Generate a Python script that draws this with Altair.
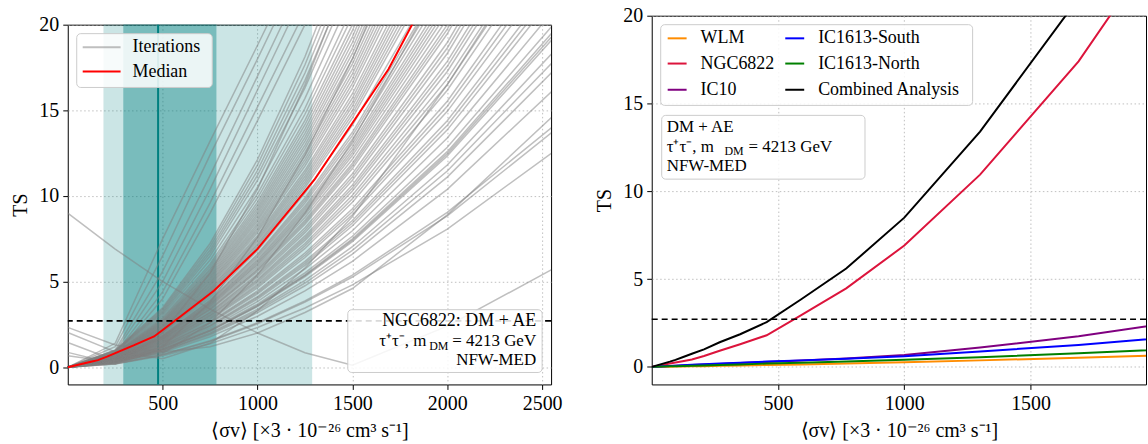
import altair as alt
import pandas as pd

FONT = "Liberation Serif"

# ---------------- data ----------------
# left panel: iterations sampled on this <sigma v> grid
X_IT = [0, 250, 500, 750, 1000, 1250, 1500, 2000, 2550]
ITERATIONS = [
    [0, 1.4, 7.5, 13.2, 18.8, 24.5],
    [0, 1.2, 6.5, 12.4, 18.0, 23.8],
    [0, 1.0, 5.6, 11.2, 17.0, 22.8],
    [0, 0.9, 5.0, 10.4, 16.2, 22.0],
    [0, 0.8, 4.4, 9.6, 15.2, 20.8],
    [0, 0.7, 4.0, 9.0, 14.4, 20.0, 26.0],
    [0, 1.00, 3.48, 7.23, 12.13, 18.13, 25.2],
    [0, 0.98, 3.39, 7.04, 11.82, 17.66, 24.5],
    [0, 0.95, 3.30, 6.85, 11.50, 17.18, 23.85],
    [0, 0.93, 3.22, 6.68, 11.21, 16.75, 23.25],
    [0, 0.90, 3.13, 6.50, 10.92, 16.31, 22.65],
    [0, 0.87, 3.02, 6.26, 10.51, 15.70, 21.79],
    [0, 0.83, 2.91, 6.03, 10.12, 15.12, 21.0],
    [0, 0.82, 2.84, 5.89, 9.88, 14.77, 20.5, 34.0],
    [0, 0.80, 2.77, 5.75, 9.64, 14.41, 20.0, 33.6],
    [0, 0.79, 2.72, 5.65, 9.47, 14.16, 19.65, 33.0],
    [0, 0.77, 2.67, 5.54, 9.30, 13.90, 19.29, 32.4],
    [0, 0.76, 2.63, 5.45, 9.14, 13.66, 18.96, 31.9],
    [0, 0.74, 2.58, 5.35, 8.98, 13.42, 18.63, 31.3],
    [0, 0.73, 2.54, 5.26, 8.83, 13.20, 18.32, 30.8],
    [0, 0.72, 2.49, 5.17, 8.68, 12.97, 18.01, 30.2],
    [0, 0.71, 2.45, 5.09, 8.54, 12.76, 17.71, 29.7],
    [0, 0.69, 2.41, 5.00, 8.39, 12.54, 17.41, 29.2],
    [0, 0.68, 2.37, 4.92, 8.26, 12.34, 17.13, 28.8],
    [0, 0.67, 2.33, 4.84, 8.12, 12.14, 16.85, 28.3],
    [0, 0.66, 2.30, 4.76, 7.99, 11.95, 16.58, 27.9],
    [0, 0.65, 2.26, 4.68, 7.86, 11.75, 16.31, 27.4],
    [0, 0.63, 2.21, 4.59, 7.70, 11.50, 15.97, 26.8],
    [0, 0.62, 2.18, 4.52, 7.58, 11.33, 15.72, 26.4],
    [0, 0.61, 2.14, 4.44, 7.46, 11.15, 15.47, 26.0],
    [0, 0.61, 2.11, 4.38, 7.35, 10.98, 15.24, 25.6],
    [0, 0.60, 2.08, 4.31, 7.23, 10.81, 15.00, 25.2],
    [0, 0.59, 2.05, 4.25, 7.13, 10.65, 14.78, 24.8],
    [0, 0.58, 2.01, 4.18, 7.02, 10.49, 14.56, 24.4],
    [0, 0.57, 1.96, 4.06, 6.82, 10.19, 14.14, 23.7],
    [0, 0.55, 1.90, 3.94, 6.61, 9.88, 13.72, 23.0],
    [0, 0.54, 1.87, 3.88, 6.52, 9.74, 13.52, 22.65],
    [0, 0.53, 1.84, 3.82, 6.42, 9.59, 13.31, 22.3],
    [0, 0.52, 1.81, 3.75, 6.30, 9.41, 13.06, 21.9],
    [0, 0.51, 1.79, 3.70, 6.21, 9.28, 12.88, 21.6],
    [0, 0.50, 1.76, 3.65, 6.12, 9.15, 12.70, 21.3],
    [0, 0.50, 1.74, 3.60, 6.04, 9.03, 12.53, 21.0],
    [0, 0.49, 1.71, 3.55, 5.96, 8.90, 12.36, 20.7],
    [0, 0.48, 1.68, 3.49, 5.85, 8.74, 12.14, 20.35, 31.5],
    [0, 0.47, 1.65, 3.42, 5.74, 8.58, 11.91, 20.0, 31.0],
    [0, 0.47, 1.63, 3.38, 5.67, 8.47, 11.76, 19.74, 30.6],
    [0, 0.46, 1.61, 3.33, 5.59, 8.35, 11.60, 19.47, 30.2],
    [0, 0.45, 1.56, 3.24, 5.45, 8.14, 11.30, 18.96, 29.4],
    [0, 0.44, 1.54, 3.19, 5.36, 8.00, 11.11, 18.64, 28.9],
    [0, 0.43, 1.51, 3.14, 5.26, 7.86, 10.92, 18.32, 28.4],
    [0, 0.42, 1.47, 3.06, 5.13, 7.67, 10.64, 17.86, 27.7],
    [0, 0.42, 1.45, 3.01, 5.05, 7.54, 10.47, 17.57, 27.25],
    [0, 0.41, 1.42, 2.96, 4.96, 7.41, 10.29, 17.27, 26.8],
    [0, 0.40, 1.39, 2.88, 4.84, 7.23, 10.04, 16.85, 26.1],
    [0, 0.39, 1.36, 2.83, 4.74, 7.09, 9.84, 16.51, 25.6],
    [0, 0.38, 1.33, 2.77, 4.64, 6.94, 9.63, 16.17, 25.1],
    [0, 0.37, 1.28, 2.66, 4.46, 6.67, 9.25, 15.53, 24.1],
    [0, 0.36, 1.26, 2.61, 4.38, 6.54, 9.08, 15.24, 23.6],
    [0, 0.35, 1.23, 2.56, 4.29, 6.41, 8.90, 14.94, 23.1],
    [0, 0.34, 1.19, 2.46, 4.13, 6.18, 8.57, 14.39, 22.3],
    [0, 0.34, 1.17, 2.42, 4.06, 6.07, 8.42, 14.13, 21.9],
    [0, 0.33, 1.14, 2.37, 3.98, 5.95, 8.26, 13.86, 21.5],
    [0, 0.32, 1.10, 2.29, 3.84, 5.74, 7.97, 13.38, 20.7],
    [0, 0.30, 1.06, 2.20, 3.69, 5.51, 7.65, 12.84, 19.9],
    [0, 0.30, 1.04, 2.15, 3.62, 5.40, 7.50, 12.59, 19.5],
    [0, 0.30, 1.03, 2.13, 3.58, 5.35, 7.42, 12.46, 19.3],
    [0, 0.29, 1.02, 2.11, 3.54, 5.29, 7.34, 12.33, 19.1],
    [0, 0.28, 0.97, 2.02, 3.39, 5.07, 7.04, 11.81, 18.3],
    [0, 0.27, 0.95, 1.96, 3.29, 4.92, 6.83, 11.46, 17.75],
    [0, 0.26, 0.92, 1.90, 3.19, 4.76, 6.61, 11.10, 17.2],
    [0, 0.25, 0.86, 1.78, 2.98, 4.46, 6.19, 10.39, 16.1],
    [0, 0.21, 0.75, 1.55, 2.60, 3.88, 5.38, 9.04, 14.0],
    [0, 0.21, 0.73, 1.51, 2.54, 3.80, 5.27, 8.84, 13.7],
    [0, 0.19, 0.67, 1.38, 2.32, 3.46, 4.81, 8.07, 12.5],
    [2.33, 1.3, 0.9, 1.2, 2.0, 3.2, 4.6, 8.9, 14.6],
    [2.03, 0.9, 0.5, 1.4, 3.3, 5.8, 8.8, 16.5, 26.0],
    [1.45, 0.4, 0.8, 2.6, 5.4, 9.0, 13.2, 23.0],
    [0.87, 0.2, 1.2, 3.8, 7.6, 12.4, 18.0, 31.0],
    [0.68, 0.3, 2.0, 5.5, 10.4, 16.5, 23.5],
    [9.0, 6.9, 5.0, 3.4, 2.0, 0.85, 0.12, 2.4, 5.7],
]

# right panel (and left median): <sigma v> grid
X_R = [0, 72, 94, 122, 159, 207, 269, 350, 455, 592, 770, 1000, 1300, 1690, 2197]
WLM = [0, 0.01, 0.02, 0.02, 0.03, 0.04, 0.06, 0.08, 0.11, 0.14, 0.19, 0.26, 0.37, 0.52, 0.72]
NGC6822 = [0, 0.19, 0.25, 0.32, 0.42, 0.62, 0.92, 1.29, 1.80, 2.95, 4.47, 6.91, 10.95, 17.4, 28.0]
IC10 = [0, 0.05, 0.06, 0.08, 0.10, 0.13, 0.17, 0.22, 0.28, 0.36, 0.48, 0.68, 1.10, 1.75, 2.8]
IC1613_SOUTH = [0, 0.05, 0.07, 0.09, 0.12, 0.15, 0.19, 0.24, 0.30, 0.37, 0.46, 0.60, 0.88, 1.25, 1.85]
IC1613_NORTH = [0, 0.03, 0.04, 0.05, 0.06, 0.08, 0.11, 0.14, 0.19, 0.24, 0.30, 0.40, 0.55, 0.78, 1.10]
COMBINED = [0, 0.30, 0.40, 0.55, 0.75, 1.00, 1.40, 1.86, 2.55, 3.85, 5.60, 8.50, 13.40, 21.0, 33.0]

SERIES_NAMES = ["WLM", "NGC6822", "IC10", "IC1613-South", "IC1613-North", "Combined Analysis"]
SERIES_VALUES = [WLM, NGC6822, IC10, IC1613_SOUTH, IC1613_NORTH, COMBINED]
SERIES_COLORS = ["#ff8c00", "#dc143c", "#800080", "#0000ff", "#008000", "#000000"]

BAND_1SIG = [294, 782]
BAND_2SIG = [189, 1287]
BEST_FIT = [476]
TS_THRESHOLD = [2.71]

X_TICKS_L = [500, 1000, 1500, 2000, 2500]
X_TICKS_R = [500, 1000, 1500]
Y_TICKS = [0, 5, 10, 15, 20]
XTITLE = "⟨σv⟩ [×3 · 10⁻²⁶ cm³ s⁻¹]"

# ---------------- frames ----------------
it_rows = []
for i, vals in enumerate(ITERATIONS):
    for x, v in zip(X_IT, vals):
        it_rows.append({"id": i, "x": x, "ts": v})
df_it = pd.DataFrame(it_rows)

df_med = pd.DataFrame({"x": X_R, "ts": NGC6822})

r_rows = []
for k, (name, vals) in enumerate(zip(SERIES_NAMES, SERIES_VALUES)):
    for x, v in zip(X_R, vals):
        r_rows.append({"name": name, "order": k, "x": x, "ts": v})
df_r = pd.DataFrame(r_rows)

df_b2 = pd.DataFrame({"x": [BAND_2SIG[0]], "hi": [BAND_2SIG[1]]})
df_b1 = pd.DataFrame({"x": [BAND_1SIG[0]], "hi": [BAND_1SIG[1]]})
df_bf = pd.DataFrame({"x": BEST_FIT})
df_th = pd.DataFrame({"ts": TS_THRESHOLD})
one = pd.DataFrame({"a": [0]})

W1, H1 = 485, 361
W2, H2 = 496, 370

ys = alt.Scale(domain=[-1, 20], nice=False, zero=False)
xs1 = alt.Scale(domain=[0, 2547], nice=False, zero=False)
xs2 = alt.Scale(domain=[0, 1957], nice=False, zero=False)

yaxis = alt.Axis(values=Y_TICKS, title="TS", grid=True, format="d")
xaxis1 = alt.Axis(values=X_TICKS_L, title=XTITLE, grid=True, format="d")
xaxis2 = alt.Axis(values=X_TICKS_R, title=XTITLE, grid=True, format="d")

X1 = alt.X("x:Q", scale=xs1, axis=xaxis1, title=XTITLE)
X2 = alt.X("x:Q", scale=xs2, axis=xaxis2, title=XTITLE)
Y = alt.Y("ts:Q", scale=ys, axis=yaxis, title="TS")


def txt(s, x, y, align="left", size=17):
    return alt.Chart(one).mark_text(
        align=align, baseline="middle", font=FONT, fontSize=size, color="black"
    ).encode(x=alt.value(x), y=alt.value(y), text=alt.value(s))


def box(x0, x1, y0, y1):
    return alt.Chart(one).mark_rect(
        fill="white", fillOpacity=0.85, stroke="#cccccc", strokeWidth=1, cornerRadius=4
    ).encode(x=alt.value(x0), x2=alt.value(x1), y=alt.value(y0), y2=alt.value(y1))


def seg(x0, x1, y, color, opacity=1.0, width=2):
    return alt.Chart(one).mark_rule(color=color, opacity=opacity, strokeWidth=width).encode(
        x=alt.value(x0), x2=alt.value(x1), y=alt.value(y))


# ---------------- left panel ----------------
band2 = alt.Chart(df_b2).mark_rect(color="teal", opacity=0.2, stroke="teal", strokeOpacity=0.3).encode(
    x=X1, x2="hi:Q")
band1 = alt.Chart(df_b1).mark_rect(color="teal", opacity=0.4, stroke="teal", strokeOpacity=0.5).encode(
    x=X1, x2="hi:Q")
bfline = alt.Chart(df_bf).mark_rule(color="teal", strokeWidth=2).encode(x=X1)
iters = alt.Chart(df_it).mark_line(color="gray", opacity=0.5, strokeWidth=1.5, clip=True).encode(
    x=X1, y=Y, detail="id:N", order="x:Q")
median = alt.Chart(df_med).mark_line(color="red", strokeWidth=2, clip=True).encode(
    x=X1, y=Y, order="x:Q")
thr1 = alt.Chart(df_th).mark_rule(color="black", strokeWidth=1.6, strokeDash=[6, 4]).encode(y=Y)

left = alt.layer(
    band2, band1, bfline, iters, median, thr1,
    box(281, 476, 286, 349),
    txt("NGC6822: DM + AE", 470, 297, align="right", size=18),
    txt("= 4213 GeV", 470, 317.5, align="right"),
    txt("DM", 382, 322, align="right", size=12),
    txt("τ⁺τ⁻, m", 360, 317.5, align="right"),
    txt("NFW-MED", 470, 336, align="right"),
    box(9, 145, 9, 63),
    seg(15, 53, 22.7, "gray", 0.5, 2),
    seg(15, 53, 47, "red", 1.0, 2),
    txt("Iterations", 65, 22.7, size=18),
    txt("Median", 65, 47, size=18),
).properties(width=W1, height=H1)

# invisible spacer that pushes the left panel a little lower than the right one
spacer = alt.Chart(one).mark_rule(opacity=0).encode(
    x=alt.value(0), x2=alt.value(1), y=alt.value(0)
).properties(width=W1, height=1, view=alt.ViewBackground(stroke="transparent"))

left_col = alt.vconcat(spacer, left, spacing=-4)

# ---------------- right panel ----------------
lines_r = alt.Chart(df_r).mark_line(strokeWidth=2, clip=True).encode(
    x=X2, y=Y,
    color=alt.Color("name:N", scale=alt.Scale(domain=SERIES_NAMES, range=SERIES_COLORS), legend=None),
    detail="name:N", order="x:Q")
thr2 = alt.Chart(df_th).mark_rule(color="black", strokeWidth=1.6, strokeDash=[6, 4]).encode(y=Y)

leg_rows = [22.7, 48.0, 74.3]
leg_layers = [box(9, 322, 9, 90)]
for k, name in enumerate(SERIES_NAMES):
    col = k // 3
    row = k % 3
    sx = 16 if col == 0 else 134
    tx = 49 if col == 0 else 167
    leg_layers.append(seg(sx, sx + 19, leg_rows[row], SERIES_COLORS[k], 1.0, 2))
    leg_layers.append(txt(name, tx, leg_rows[row], size=18))

right = alt.layer(
    lines_r, thr2,
    *leg_layers,
    box(10, 214, 100, 164),
    txt("DM + AE", 15, 111.5),
    txt("τ⁺τ⁻, m", 15, 131.5),
    txt("DM", 73, 136, size=12),
    txt("= 4213 GeV", 97, 131.5),
    txt("NFW-MED", 15, 150.5),
).properties(width=W2, height=H2)

chart = alt.hconcat(left_col, right, spacing=31).properties(
    padding={"left": 10, "top": 4, "right": 0, "bottom": 0}
).configure_axis(
    labelFont=FONT, titleFont=FONT, labelFontSize=20, titleFontSize=20,
    titleFontWeight="normal", labelColor="black", titleColor="black",
    tickColor="black", tickSize=5, tickWidth=1, domain=False,
    gridColor="#b0b0b0", gridDash=[1.5, 2.5], gridWidth=0.8, labelPadding=4,
).configure_axisY(titlePadding=8).configure_axisX(titlePadding=7).configure_view(
    stroke="black", strokeWidth=1
)

chart.save("out.html", embed_options={"renderer": "svg", "actions": False})
